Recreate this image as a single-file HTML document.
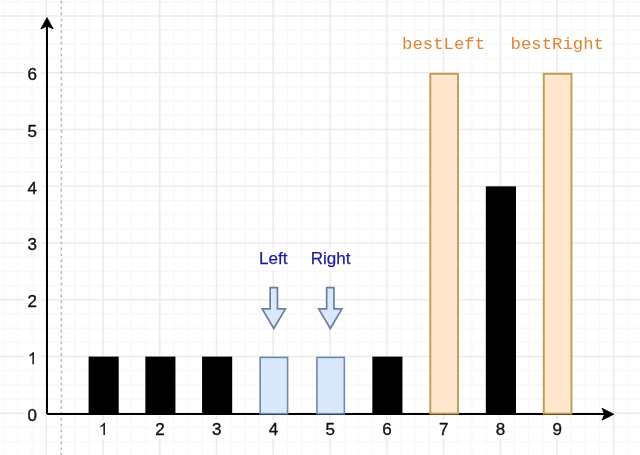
<!DOCTYPE html>
<html><head><meta charset="utf-8"><style>
html,body{margin:0;padding:0;background:#fff;}
#c{position:relative;width:640px;height:455px;overflow:hidden;background:#fff;font-family:"Liberation Sans",sans-serif;filter:blur(0.35px);}
svg{position:absolute;left:0;top:0;}
.yl{position:absolute;left:23.8px;width:17px;text-align:center;font-size:17px;line-height:19px;color:#111;background:#fff;-webkit-text-stroke:0.35px #111;}
.xl{position:absolute;top:419.7px;width:18px;text-align:center;font-size:17px;line-height:19px;color:#111;background:#fff;-webkit-text-stroke:0.35px #111;}
.t{position:absolute;font-size:17px;line-height:22px;color:#1d1d96;white-space:nowrap;background:#fff;-webkit-text-stroke:0.25px #1d1d96;}
.m{position:absolute;font-family:"Liberation Mono",monospace;font-size:17.3px;line-height:20px;color:#dc8636;white-space:nowrap;}
</style></head><body><div id="c">
<svg width="640" height="455" viewBox="0 0 640 455">
<path d="M3.69 0V455M17.88 0V455M32.06 0V455M60.44 0V455M74.62 0V455M88.81 0V455M117.19 0V455M131.38 0V455M145.56 0V455M173.94 0V455M188.12 0V455M202.31 0V455M230.69 0V455M244.88 0V455M259.06 0V455M287.44 0V455M301.62 0V455M315.81 0V455M344.19 0V455M358.38 0V455M372.56 0V455M400.94 0V455M415.12 0V455M429.31 0V455M457.69 0V455M471.88 0V455M486.06 0V455M514.44 0V455M528.62 0V455M542.81 0V455M571.19 0V455M585.38 0V455M599.56 0V455M627.94 0V455M642.12 0V455M0 1.81H640M0 30.19H640M0 44.38H640M0 58.56H640M0 86.94H640M0 101.12H640M0 115.31H640M0 143.69H640M0 157.88H640M0 172.06H640M0 200.44H640M0 214.62H640M0 228.81H640M0 257.19H640M0 271.38H640M0 285.56H640M0 313.94H640M0 328.12H640M0 342.31H640M0 370.69H640M0 384.88H640M0 399.06H640M0 427.44H640M0 441.62H640M0 455.81H640" stroke="#f8f8f8" stroke-width="1.3" fill="none"/>
<path d="M46.25 0V455M103.00 0V455M159.75 0V455M216.50 0V455M273.25 0V455M330.00 0V455M386.75 0V455M443.50 0V455M500.25 0V455M557.00 0V455M613.75 0V455M0 16.00H640M0 72.75H640M0 129.50H640M0 186.25H640M0 243.00H640M0 299.75H640M0 356.50H640M0 413.25H640" stroke="#ebebeb" stroke-width="1.6" fill="none"/>
<path d="M61.4 0.8V455" stroke="#b4b4b4" stroke-width="1.4" stroke-dasharray="2.6 3.276" fill="none"/>
<path d="M47 414H606" stroke="#000" stroke-width="2" fill="none"/>
<path d="M47 414V24" stroke="#000" stroke-width="2" fill="none"/>
<path d="M47 17.6L53.2 28.9L47 26.1L40.8 28.9Z" fill="#000" stroke="#000" stroke-width="0.8"/>
<path d="M613.8 414.2L602 408.2L604.6 414.2L602 420.2Z" fill="#000" stroke="#000" stroke-width="0.8"/>
<rect x="89.30" y="357.30" width="28.70" height="56.50" fill="#000" stroke="#000" stroke-width="1.4"/>
<rect x="146.05" y="357.30" width="28.70" height="56.50" fill="#000" stroke="#000" stroke-width="1.4"/>
<rect x="202.80" y="357.30" width="28.70" height="56.50" fill="#000" stroke="#000" stroke-width="1.4"/>
<rect x="373.05" y="357.30" width="28.70" height="56.50" fill="#000" stroke="#000" stroke-width="1.4"/>
<rect x="486.55" y="187.05" width="28.70" height="226.75" fill="#000" stroke="#000" stroke-width="1.4"/>
<rect x="260.20" y="357.40" width="27.40" height="56.30" fill="#dae8fc" stroke="#7088a8" stroke-width="1.6"/>
<rect x="316.95" y="357.40" width="27.40" height="56.30" fill="#dae8fc" stroke="#7088a8" stroke-width="1.6"/>
<rect x="430.30" y="73.80" width="27.70" height="339.75" fill="#ffe6cc" stroke="#bf9d55" stroke-width="1.9"/>
<rect x="543.80" y="73.80" width="27.70" height="339.75" fill="#ffe6cc" stroke="#bf9d55" stroke-width="1.9"/>
<path d="M270.15 287.6H277.45V308.9H285.40L273.80 328.5L262.20 308.9H270.15Z" fill="#dae8fc" stroke="#6c809e" stroke-width="1.7" stroke-linejoin="miter"/>
<path d="M326.65 287.6H333.95V308.9H341.90L330.30 328.5L318.70 308.9H326.65Z" fill="#dae8fc" stroke="#6c809e" stroke-width="1.7" stroke-linejoin="miter"/>
</svg>
<div class="yl" style="top:405.55px">0</div><div class="yl" style="top:348.80px">&nbsp;</div><div class="yl" style="top:292.05px">2</div><div class="yl" style="top:235.30px">3</div><div class="yl" style="top:178.55px">4</div><div class="yl" style="top:121.80px">5</div><div class="yl" style="top:65.05px">6</div><div class="xl" style="left:94.30px">&nbsp;</div><div class="xl" style="left:151.05px">2</div><div class="xl" style="left:207.80px">3</div><div class="xl" style="left:264.55px">4</div><div class="xl" style="left:321.30px">5</div><div class="xl" style="left:378.05px">6</div><div class="xl" style="left:434.80px">7</div><div class="xl" style="left:491.55px">8</div><div class="xl" style="left:548.30px">9</div><svg width="640" height="455" viewBox="0 0 640 455" style="position:absolute;left:0;top:0" fill="#111" stroke="#111" stroke-width="0.35"><path transform="translate(27.573 364.190) scale(0.008301 -0.008301)" d="M763 0H583V1147Q518 1085 412.5 1023T223 930V1104Q375 1175 489 1276T650 1472H763V0Z"/><path transform="translate(98.573 435.090) scale(0.008301 -0.008301)" d="M763 0H583V1147Q518 1085 412.5 1023T223 930V1104Q375 1175 489 1276T650 1472H763V0Z"/></svg>
<div class="t" style="left:259px;top:247.8px">Left</div>
<div class="t" style="left:310.7px;top:247.8px">Right</div>
<div class="m" style="left:402.1px;top:35.2px">bestLeft</div>
<div class="m" style="left:510.6px;top:35.2px">bestRight</div>
</div></body></html>
